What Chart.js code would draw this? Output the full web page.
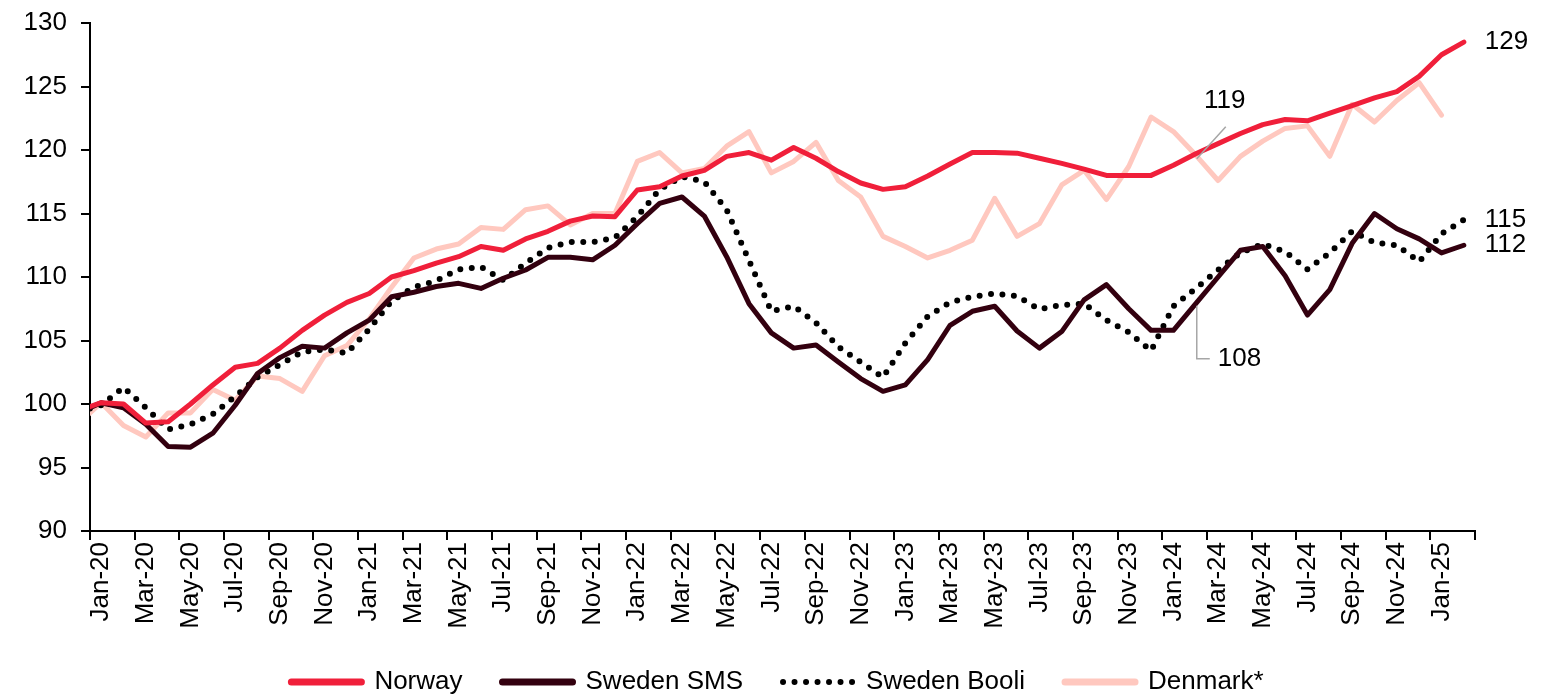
<!DOCTYPE html>
<html>
<head>
<meta charset="utf-8">
<script src="https://cdn.jsdelivr.net/npm/chart.js@4.4.1/dist/chart.umd.min.js"></script>
<style>
html, body { margin: 0; padding: 0; background: #ffffff; }
canvas { display: block; }
</style>
</head>
<body>
<canvas id="chart" width="1555" height="695"></canvas>
<script>
// ---- Data ----
const months = [
  'Dec-19',
  'Jan-20','Feb-20','Mar-20','Apr-20','May-20','Jun-20','Jul-20','Aug-20','Sep-20','Oct-20','Nov-20','Dec-20',
  'Jan-21','Feb-21','Mar-21','Apr-21','May-21','Jun-21','Jul-21','Aug-21','Sep-21','Oct-21','Nov-21','Dec-21',
  'Jan-22','Feb-22','Mar-22','Apr-22','May-22','Jun-22','Jul-22','Aug-22','Sep-22','Oct-22','Nov-22','Dec-22',
  'Jan-23','Feb-23','Mar-23','Apr-23','May-23','Jun-23','Jul-23','Aug-23','Sep-23','Oct-23','Nov-23','Dec-23',
  'Jan-24','Feb-24','Mar-24','Apr-24','May-24','Jun-24','Jul-24','Aug-24','Sep-24','Oct-24','Nov-24','Dec-24',
  'Jan-25','Feb-25'
];
const firstShownMonth = 'Jan-20';

const norway = [99.5,
  100.1,100.0,98.5,98.6,100.0,101.5,102.9,103.2,104.4,105.8,107.0,108.0,
  108.7,110.0,110.5,111.1,111.6,112.4,112.1,113.0,113.6,114.4,114.8,114.75,
  116.85,117.1,117.95,118.4,119.5,119.8,119.2,120.2,119.35,118.3,117.4,116.9,
  117.1,117.95,118.9,119.8,119.8,119.75,119.35,118.95,118.5,118.0,118.0,118.0,
  118.8,119.7,120.5,121.3,122.0,122.4,122.3,122.9,123.5,124.1,124.6,125.8,
  127.5,128.5];

const swedenSMS = [99.3,
  100.1,99.7,98.4,96.65,96.6,97.7,99.9,102.4,103.65,104.55,104.4,105.6,
  106.6,108.45,108.8,109.25,109.5,109.1,109.9,110.55,111.55,111.55,111.35,112.5,
  114.2,115.8,116.3,114.8,111.6,107.9,105.6,104.4,104.65,103.3,102.0,101.0,
  101.5,103.5,106.2,107.3,107.7,105.75,104.4,105.7,108.2,109.4,107.5,105.8,
  105.8,107.9,110.0,112.1,112.4,110.1,107.0,109.0,112.65,115.0,113.8,113.0,
  111.9,112.5];

const swedenBooli = [99.4,
  99.9,101.3,99.7,98.0,98.4,99.2,100.6,102.1,103.1,104.1,104.3,104.0,
  105.9,108.1,109.2,109.7,110.6,110.8,109.75,111.1,112.3,112.75,112.75,113.1,
  114.75,116.9,117.9,117.5,115.3,111.3,107.3,107.7,106.4,104.5,103.3,102.1,
  104.8,106.9,108.0,108.45,108.7,108.5,107.45,107.8,107.9,106.6,105.65,104.2,
  107.7,109.1,110.55,111.9,112.6,112.0,110.6,111.9,113.6,112.7,112.5,111.2,
  113.4,114.5];

const denmark = [98.5,
  100.1,98.3,97.4,99.3,99.3,101.15,100.3,102.2,102.0,101.0,103.8,104.6,
  106.7,109.2,111.5,112.2,112.6,113.9,113.75,115.3,115.6,114.1,115.0,115.0,
  119.1,119.8,118.2,118.55,120.3,121.45,118.2,119.1,120.6,117.6,116.3,113.2,
  112.4,111.5,112.1,112.9,116.2,113.2,114.2,117.25,118.4,116.1,118.7,122.6,
  121.45,119.6,117.6,119.5,120.7,121.7,121.9,119.5,123.6,122.2,123.9,125.3,
  122.75,null];

const seriesNames = ['Norway', 'Sweden SMS', 'Sweden Booli', 'Denmark*'];

const yMin = 90, yMax = 130, yStep = 5;

// End-of-line value labels
const endLabels = [
  { text: '129', series: norway, month: 'Feb-25' },
  { text: '115', series: swedenBooli, month: 'Feb-25' },
  { text: '112', series: swedenSMS, month: 'Feb-25' }
];
// Callout labels with leader lines
const calloutUp = { text: '119', series: norway, month: 'Feb-24' };
const calloutDown = { text: '108', series: swedenSMS, month: 'Feb-24' };

// ---- Styles ----
const FONT = "'Liberation Sans', Arial, sans-serif";
Chart.defaults.font.family = FONT;
Chart.defaults.font.size = 26;
Chart.defaults.color = '#000000';

const annotationPlugin = {
  id: 'valueAnnotations',
  afterDatasetsDraw(chart) {
    const { ctx } = chart;
    const x = chart.scales.x, y = chart.scales.y;
    ctx.save();
    ctx.font = '26px ' + FONT;
    ctx.fillStyle = '#000000';
    ctx.textBaseline = 'middle';
    ctx.textAlign = 'left';
    endLabels.forEach(a => {
      const i = months.indexOf(a.month);
      const px = x.getPixelForValue(i);
      const py = y.getPixelForValue(a.series[i]);
      ctx.fillText(a.text, px + 21, py);
    });
    ctx.strokeStyle = '#a6a6a6';
    ctx.lineWidth = 1.5;
    // 119 callout (leader up-right)
    {
      const i = months.indexOf(calloutUp.month);
      const px = x.getPixelForValue(i);
      const py = y.getPixelForValue(calloutUp.series[i]);
      ctx.beginPath();
      ctx.moveTo(px + 1, py + 5);
      ctx.lineTo(px + 30, py - 27);
      ctx.stroke();
      ctx.textAlign = 'center';
      ctx.fillText(calloutUp.text, px + 29, py - 53);
    }
    // 108 callout (leader down then right)
    {
      const i = months.indexOf(calloutDown.month);
      const px = x.getPixelForValue(i);
      const py = y.getPixelForValue(calloutDown.series[i]);
      ctx.beginPath();
      ctx.moveTo(px + 1, py + 2);
      ctx.lineTo(px + 1, py + 55);
      ctx.lineTo(px + 14, py + 55);
      ctx.stroke();
      ctx.textAlign = 'left';
      ctx.fillText(calloutDown.text, px + 22, py + 55);
    }
    ctx.restore();
  }
};

const lineBase = {
  pointRadius: 0,
  pointHoverRadius: 0,
  tension: 0,
  borderWidth: 5,
  borderJoinStyle: 'round',
  borderCapStyle: 'round',
  clip: 0,
  fill: false
};

new Chart(document.getElementById('chart'), {
  type: 'line',
  data: {
    labels: months,
    datasets: [
      Object.assign({}, lineBase, { label: seriesNames[0], data: norway, borderColor: '#f01f3a', backgroundColor: '#f01f3a' }),
      Object.assign({}, lineBase, { label: seriesNames[1], data: swedenSMS, borderColor: '#33000f', backgroundColor: '#33000f' }),
      Object.assign({}, lineBase, { label: seriesNames[2], data: swedenBooli, borderColor: '#000000', backgroundColor: '#000000',
        borderWidth: 6, borderDash: [0, 11.5], borderCapStyle: 'round' }),
      Object.assign({}, lineBase, { label: seriesNames[3], data: denmark, borderColor: '#ffc8bf', backgroundColor: '#ffc8bf' })
    ]
  },
  options: {
    responsive: false,
    animation: false,
    devicePixelRatio: 1,
    layout: { padding: { top: 23, bottom: 0, left: 0, right: 0 } },
    plugins: {
      tooltip: { enabled: false },
      legend: {
        position: 'bottom',
        maxHeight: 66,
        labels: {
          usePointStyle: true,
          pointStyle: 'line',
          pointStyleWidth: 70,
          boxHeight: 26,
          padding: 40,
          font: { size: 26, family: FONT },
          color: '#000000',
          generateLabels(chart) {
            const items = Chart.defaults.plugins.legend.labels.generateLabels(chart);
            items.forEach(it => {
              const ds = chart.data.datasets[it.datasetIndex];
              it.pointStyle = 'line';
              if (ds.borderDash && ds.borderDash.length) {
                it.lineWidth = 6; it.lineCap = 'round'; it.lineDash = [0, 11.5];
              } else {
                it.lineWidth = 7; it.lineCap = 'round'; it.lineDash = [];
              }
            });
            return items;
          }
        }
      }
    },
    scales: {
      x: {
        type: 'category',
        min: firstShownMonth,
        offset: true,
        grid: {
          offset: true,
          drawOnChartArea: false,
          tickLength: 9,
          lineWidth: 2,
          tickColor: (c) => (c.index === undefined || c.index % 2 === 0) ? '#000000' : 'rgba(0,0,0,0)'
        },
        border: { display: true, color: '#000000', width: 2 },
        ticks: {
          autoSkip: false,
          maxRotation: 90,
          minRotation: 90,
          padding: 2,
          font: { size: 26, family: FONT },
          color: '#000000',
          callback: function (value, index) { return index % 2 === 0 ? this.getLabelForValue(value) : ''; }
        },
        afterFit: (s) => { s.height = 98; s.paddingTop = 0; }
      },
      y: {
        min: yMin,
        max: yMax,
        grid: { drawOnChartArea: false, tickLength: 9, lineWidth: 2, color: '#000000' },
        border: { display: true, color: '#000000', width: 2 },
        ticks: { stepSize: yStep, padding: 14, font: { size: 26, family: FONT }, color: '#000000' },
        afterFit: (s) => { s.width = 90; s.paddingTop = 0; s.paddingBottom = 0; }
      },
      yRight: {
        position: 'right',
        display: true,
        grid: { display: false },
        border: { display: false },
        ticks: { display: false },
        afterFit: (s) => { s.width = 80; s.paddingTop = 0; s.paddingBottom = 0; }
      }
    }
  },
  plugins: [annotationPlugin]
});
</script>
</body>
</html>
